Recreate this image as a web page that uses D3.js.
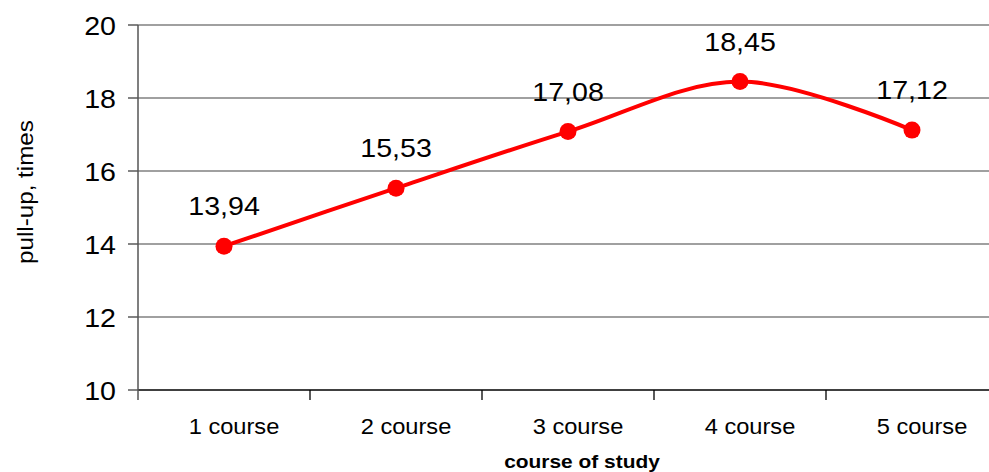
<!DOCTYPE html>
<html><head><meta charset="utf-8">
<script src="https://cdn.jsdelivr.net/npm/d3@7"></script>
<style>body{margin:0;background:#fff}svg{display:block}text{font-family:"Liberation Sans",Arial,sans-serif;fill:#000}</style>
</head><body><svg id="c" width="989" height="472"></svg>
<script>
const categories = ["1 course","2 course","3 course","4 course","5 course"];
const values = [13.94, 15.53, 17.08, 18.45, 17.12];
const valueLabels = ["13,94","15,53","17,08","18,45","17,12"];
const yTicks = [10,12,14,16,18,20];

const svg = d3.select("#c");
const L = 138, R = 998, T = 25, B = 390;
const x = d3.scaleBand().domain(categories).range([L, R]);
const y = d3.scaleLinear().domain([10, 20]).range([B, T]);
const sx = 1.1;

// gridlines
svg.append("g").selectAll("line").data(yTicks.slice(1)).join("line")
  .attr("x1", L).attr("x2", R).attr("y1", d => y(d)).attr("y2", d => y(d))
  .attr("stroke", "#808080").attr("stroke-width", 1.3);

// y axis ticks
svg.append("g").selectAll("line").data(yTicks).join("line")
  .attr("x1", L - 10).attr("x2", L).attr("y1", d => y(d)).attr("y2", d => y(d))
  .attr("stroke", "#404040").attr("stroke-width", 1.3);
svg.append("g").selectAll("text").data(yTicks).join("text")
  .attr("transform", d => `translate(${L - 22},${y(d) + 9.5}) scale(${sx},1)`)
  .attr("text-anchor", "end").attr("font-size", 26).text(d => d);

// x axis
svg.append("line").attr("x1", L).attr("x2", R).attr("y1", B).attr("y2", B)
  .attr("stroke", "#000").attr("stroke-width", 1.3);
svg.append("line").attr("x1", L).attr("x2", L).attr("y1", T).attr("y2", B + 10)
  .attr("stroke", "#555").attr("stroke-width", 1.5);
svg.append("g").selectAll("line").data(categories.slice(1)).join("line")
  .attr("x1", d => x(d)).attr("x2", d => x(d)).attr("y1", B).attr("y2", B + 10)
  .attr("stroke", "#000").attr("stroke-width", 1.3);
svg.append("g").selectAll("text").data(categories).join("text")
  .attr("transform", d => `translate(${x(d) + x.bandwidth() / 2 + 10},434) scale(${sx},1)`)
  .attr("text-anchor", "middle").attr("font-size", 21.5).text(d => d);

// axis titles
svg.append("text").attr("transform", `translate(582,468) scale(${sx},1)`)
  .attr("text-anchor", "middle").attr("font-size", 19).attr("font-weight", "bold").text("course of study");
svg.append("text").attr("transform", `translate(33,192) rotate(-90) scale(${sx},1)`)
  .attr("text-anchor", "middle").attr("font-size", 22).text("pull-up, times");

// line
const px = (d, i) => x(categories[i]) + x.bandwidth() / 2;
const line = d3.line().x((d, i) => px(d, i)).y(d => y(d)).curve(d3.curveCatmullRom.alpha(0.5));
svg.append("path").datum(values).attr("d", line)
  .attr("fill", "none").attr("stroke", "#ff0000").attr("stroke-width", 4);
svg.append("g").selectAll("circle").data(values).join("circle")
  .attr("cx", (d, i) => px(d, i)).attr("cy", d => y(d)).attr("r", 8.5).attr("fill", "#ff0000");
svg.append("g").selectAll("text").data(values).join("text")
  .attr("transform", (d, i) => `translate(${px(d, i)},${y(d) - 31}) scale(${sx},1)`)
  .attr("text-anchor", "middle").attr("font-size", 26).text((d, i) => valueLabels[i]);
</script></body></html>
